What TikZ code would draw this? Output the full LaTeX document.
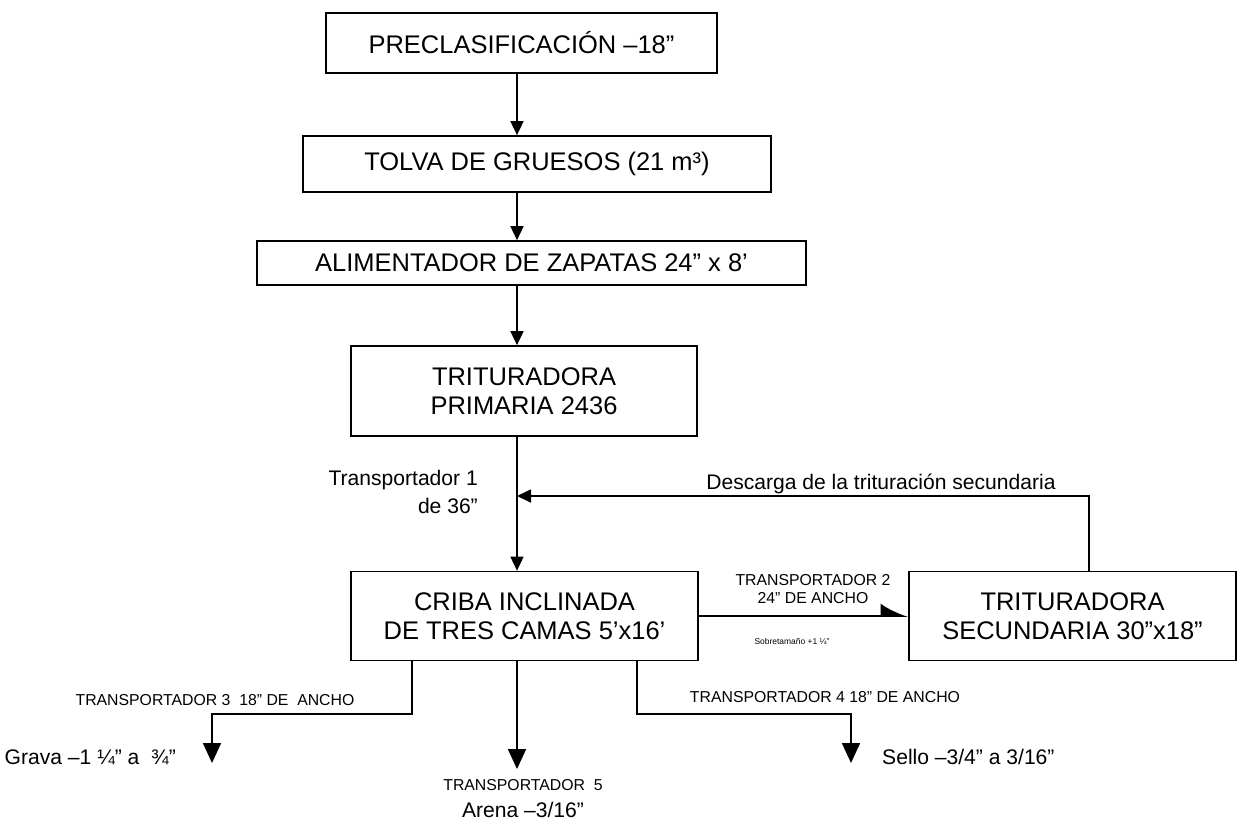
\documentclass[tikz,border=0pt]{standalone}
\usepackage{fontspec}
\setmainfont{Liberation Sans}
\usetikzlibrary{arrows.meta, positioning}

\begin{document}
\begin{tikzpicture}[x=0.02cm, y=-0.02cm,
    caja/.style = {draw, line width=1pt, inner sep=0pt, align=center, font=\fontsize{14.5}{16.5}\selectfont},
    flecha/.style = {line width=1pt, -{Triangle[length=2.8mm, width=2.6mm]}},
    flechab/.style = {line width=1pt, -{Triangle[length=4mm, width=3.6mm]}},
    medio/.style = {font=\fontsize{12}{16.4}\selectfont},
    chico/.style = {font=\fontsize{9}{10.5}\selectfont, align=center}]
\useasboundingbox (0,0) rectangle (1240,826);

% equipos
\node[caja, minimum width=78.2mm, minimum height=12mm] (pre) at (521.5,43) {PRECLASIFICACIÓN –18”};
\node[caja, minimum width=93.6mm, minimum height=11.2mm] (tolva) at (537,164) {TOLVA DE GRUESOS (21 m³)};
\node[caja, minimum width=109.8mm, minimum height=8.8mm] (alim) at (531.5,263) {ALIMENTADOR DE ZAPATAS 24” x 8’};
\node[caja, minimum width=69.2mm, minimum height=18mm] (tprim) at (524,391) {TRITURADORA\\PRIMARIA 2436};
\node[caja, minimum width=69.4mm, minimum height=17.8mm] (criba) at (524.5,616) {CRIBA INCLINADA\\DE TRES CAMAS 5’x16’};
\node[caja, minimum width=65.4mm, minimum height=17.8mm] (tsec) at (1072.5,616) {TRITURADORA\\SECUNDARIA 30”x18”};

\coordinate (eje) at (517,0);
\coordinate (ret) at (1089,496);
\coordinate (t3) at (412,714);
\coordinate (t4) at (637,714);
\coordinate (grava) at (212,763);
\coordinate (sello) at (851,763);
\coordinate (arena) at (517,769);

% flujo principal
\foreach \a/\b in {pre/tolva, tolva/alim, alim/tprim, tprim/criba}
  \draw[flecha] (\a.south -| eje) -- (\b.north -| eje);
\draw[flecha] (tsec.north -| ret) -- (ret) -- (ret -| eje);
\draw[line width=1pt, -{Latex[left, length=5mm, width=5mm]}] (criba.east) -- (criba.east -| tsec.west);
\draw[flechab] (criba.south -| t3) -- (t3) -| (grava);
\draw[flechab] (criba.south -| arena) -- (arena);
\draw[flechab] (criba.south -| t4) -- (t4) -| (sello);

% textos
\node[medio, align=right, anchor=east] (tr1) at (484,492) {Transportador 1\\de 36”};
\node[medio, anchor=base west, inner sep=0pt] (desc) at (706,489) {Descarga de la trituración secundaria};
\node[chico] (tr2) at (813,589) {TRANSPORTADOR 2\\24" DE ANCHO};
\node[font=\fontsize{4.8}{6}\selectfont] (sobre) at (792,642) {Sobretamaño +1 ¼"};
\node[chico] (tr3) at (215,700) {TRANSPORTADOR 3 \ 18" DE \ ANCHO};
\node[chico] (tr4) at (825,697) {TRANSPORTADOR 4 18" DE ANCHO};
\node[chico] (tr5) at (523,785) {TRANSPORTADOR \ 5};
\node[medio, anchor=east] (gr) at (182,757) {Grava –1 ¼” a \ ¾”};
\node[medio, anchor=west] (se) at (876,757) {Sello –3/4” a 3/16”};
\node[medio] (ar) at (523,810) {Arena –3/16”};
\end{tikzpicture}
\end{document}
